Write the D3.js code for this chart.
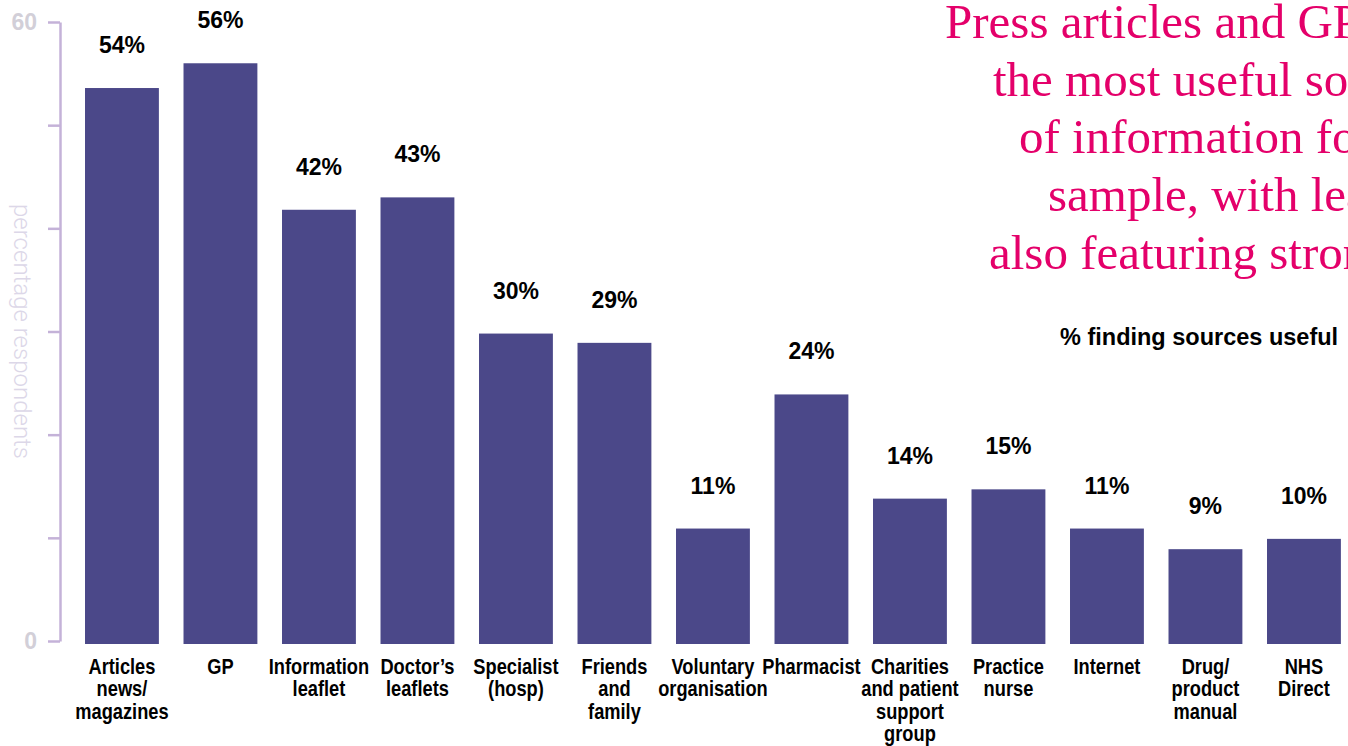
<!DOCTYPE html>
<html>
<head>
<meta charset="utf-8">
<script src="https://cdn.jsdelivr.net/npm/d3@7"></script>
<style>
  body { margin: 0; background: #fff; overflow: hidden; }
  svg { display: block; }
</style>
</head>
<body>
<svg id="chart" width="1348" height="746"></svg>
<script>
// source categories, each label split on its line breaks
const categories = [
    ['Articles', 'news/', 'magazines'],
    ['GP'],
    ['Information', 'leaflet'],
    ['Doctor\u2019s', 'leaflets'],
    ['Specialist', '(hosp)'],
    ['Friends', 'and', 'family'],
    ['Voluntary', 'organisation'],
    ['Pharmacist'],
    ['Charities', 'and patient', 'support', 'group'],
    ['Practice', 'nurse'],
    ['Internet'],
    ['Drug/', 'product', 'manual'],
    ['NHS', 'Direct']
];
// % finding source useful (bar heights)
const values = [53.6, 56.0, 41.8, 43.0, 29.8, 28.9, 10.9, 23.9, 13.8, 14.7, 10.9, 8.9, 9.9];
const yTicks = [0, 10, 20, 30, 40, 50, 60];
const yTickLabels = ['0', '', '', '', '', '', '60'];
const titleLines = [
    'Press articles and GPs are',
    'the most useful sources',
    'of information for this',
    'sample, with leaflets',
    'also featuring strongly'
];

const svg = d3.select('#chart');

const x = d3.scaleBand()
    .domain(d3.range(categories.length))
    .range([72.7, 1353.2])
    .paddingInner(0.25)
    .paddingOuter(0.125);

const y = d3.scaleLinear()
    .domain([0, 60])
    .range([641, 22]);

// y axis
const yAxis = svg.append('g')
    .attr('transform', 'translate(60,0)')
    .call(d3.axisLeft(y)
        .tickValues(yTicks)
        .tickSize(12)
        .tickSizeOuter(0)
        .tickPadding(11)
        .tickFormat((d, i) => yTickLabels[i]));

yAxis.select('.domain')
    .attr('stroke', '#c4b2d8')
    .attr('stroke-width', 2.5);
yAxis.selectAll('.tick line')
    .attr('stroke', '#c4b2d8')
    .attr('stroke-width', 2.5);
yAxis.selectAll('.tick text')
    .attr('fill', '#d2cfd8')
    .style('font', 'bold 23px "Liberation Sans", Arial, sans-serif');

svg.append('text')
    .attr('transform', `translate(14,${(y(0) + y(60)) / 2}) rotate(90)`)
    .attr('text-anchor', 'middle')
    .attr('fill', '#dcd7e8')
    .style('font', '300 24px Roboto, "Liberation Sans", sans-serif')
    .text('percentage respondents');

// bars
svg.append('g')
    .selectAll('rect')
    .data(values)
    .join('rect')
        .attr('x', (d, i) => x(i))
        .attr('y', d => y(d))
        .attr('width', x.bandwidth())
        .attr('height', d => y(0) - y(d) + 3)
        .attr('fill', '#4b4889');

// value labels
svg.append('g')
    .selectAll('text')
    .data(values)
    .join('text')
        .attr('x', (d, i) => x(i) + x.bandwidth() / 2)
        .attr('y', d => y(d) - 35)
        .attr('text-anchor', 'middle')
        .attr('fill', '#000')
        .style('font', 'bold 23px "Liberation Sans", Arial, sans-serif')
        .text(d => Math.round(d) + '%');

// category labels, squeezed horizontally to mimic the condensed face
svg.append('g')
    .selectAll('g')
    .data(categories)
    .join('g')
        .attr('transform', (d, i) => `translate(${x(i) + x.bandwidth() / 2},0) scale(0.83,1)`)
        .append('text')
            .attr('text-anchor', 'middle')
            .attr('fill', '#000')
            .style('font', 'bold 22px "Liberation Sans", Arial, sans-serif')
            .each(function (lines) {
                d3.select(this).selectAll('tspan')
                    .data(lines)
                    .join('tspan')
                        .attr('x', 0)
                        .attr('y', (l, j) => 674 + j * 22.5)
                        .text(l => l);
            });

// headline
svg.append('g')
    .selectAll('text')
    .data(titleLines)
    .join('text')
        .attr('x', (d, i) => [945, 993, 1019, 1048, 989][i])
        .attr('y', (d, i) => 38 + i * 57.7)
        .attr('fill', '#e4006a')
        .style('font', '49px "Liberation Serif", "Times New Roman", serif')
        .text(d => d);

svg.append('text')
    .attr('x', 1060)
    .attr('y', 345)
    .attr('fill', '#000')
    .style('font', 'bold 23.5px "Liberation Sans", Arial, sans-serif')
    .text('% finding sources useful');
</script>
</body>
</html>
